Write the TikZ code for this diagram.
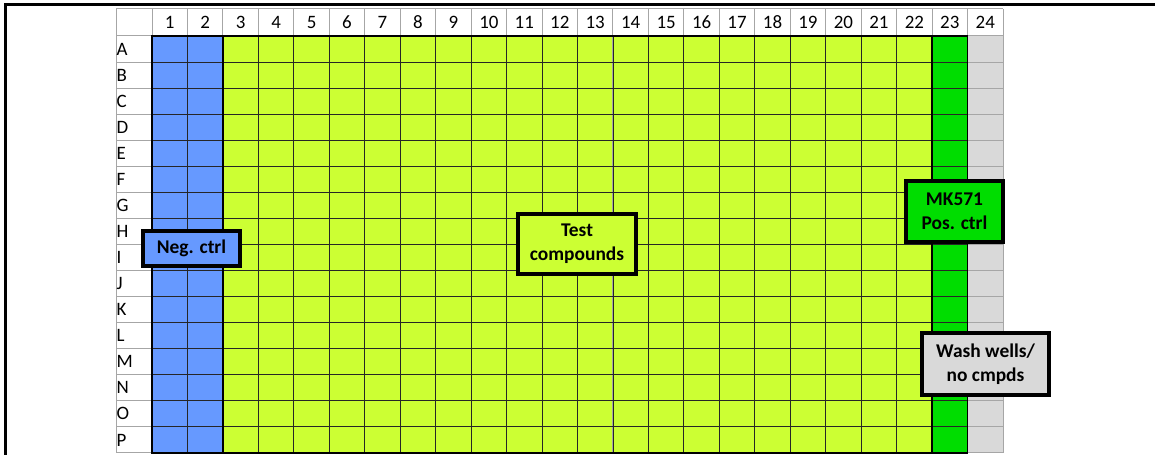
\documentclass[tikz,border=0pt]{standalone}
\usepackage{fontspec}
\setmainfont{Carlito}
\definecolor{negblue}{HTML}{6699FF}
\definecolor{testyg}{HTML}{CCFF33}
\definecolor{posgreen}{HTML}{00DD00}
\definecolor{washgray}{HTML}{D9D9D9}
\definecolor{gridgray}{HTML}{A6A6A6}
\tikzset{
  lbl/.style={inner sep=0pt, font=\fontsize{19}{22}\selectfont},
  callout/.style={draw=black, line width=4bp, inner sep=0pt, align=center,
    font=\fontsize{19.5}{24}\selectfont\bfseries},
}
\begin{document}
\begin{tikzpicture}[x=1bp,y=-1bp]
\useasboundingbox (0,0) rectangle (1155,455);
\pgfmathsetmacro{\cw}{(1003-152)/24}
\pgfmathsetmacro{\rh}{(453-36)/16}
% fills
\fill[negblue] (152,36) rectangle ({152+2*\cw},453);
\fill[testyg] ({152+2*\cw},36) rectangle ({152+22*\cw},453);
\fill[posgreen] ({152+22*\cw},36) rectangle ({152+23*\cw},453);
\fill[washgray] ({152+23*\cw},36) rectangle (1003,453);
% gray grid
\foreach \j in {0,...,16} {
  \draw[gridgray, line width=1bp] (116,{36+\j*\rh}) -- (1003,{36+\j*\rh});
}
\draw[gridgray, line width=1bp] (116,9) -- (1003,9);
\draw[gridgray, line width=1bp] (116,9) -- (116,453);
\foreach \i in {0,...,24} {
  \draw[gridgray, line width=1bp] ({152+\i*\cw},9) -- ({152+\i*\cw},453);
}
% dark grid in coloured region
\foreach \j in {1,...,15} {
  \draw[black!85, line width=0.9bp] (152,{36+\j*\rh}) -- ({152+23*\cw},{36+\j*\rh});
}
\foreach \i in {1,...,22} {
  \draw[black!85, line width=0.9bp] ({152+\i*\cw},36) -- ({152+\i*\cw},453);
}
% thick borders
\draw[black, line width=1.6bp] (152,36) rectangle ({152+23*\cw},453);
\draw[black, line width=1.6bp] ({152+2*\cw},36) -- ({152+2*\cw},453);
\draw[black, line width=1.6bp] ({152+22*\cw},36) -- ({152+22*\cw},453);
% header labels
\foreach \i in {1,...,24} {
  \node[lbl] (h\i) at ({152+(\i-0.5)*\cw},22.5) {\i};
}
% row labels
\foreach \r [count=\j from 0] in {A,B,C,D,E,F,G,H,I,J,K,L,M,N,O,P} {
  \node[lbl, anchor=west] (r\r) at (116.3,{36+(\j+0.5)*\rh}) {\r};
}
% frame
\draw[black, line width=3bp] (5,455) -- (5,5) -- (1155,5);
% callouts
\node[callout, fill=negblue, minimum width=97bp, minimum height=35bp] (neg) at (191.5,248.5) {Neg. ctrl};
\node[callout, fill=testyg, minimum width=118bp, minimum height=60bp] (test) at (577,244) {Test\\compounds};
\node[callout, fill=posgreen, minimum width=97bp, minimum height=61bp] (mk) at (954.5,211.5) {MK571\\Pos. ctrl};
\node[callout, fill=washgray, minimum width=127bp, minimum height=62bp] (wash) at (985.5,364) {Wash wells/\\no cmpds};
\end{tikzpicture}
\end{document}
